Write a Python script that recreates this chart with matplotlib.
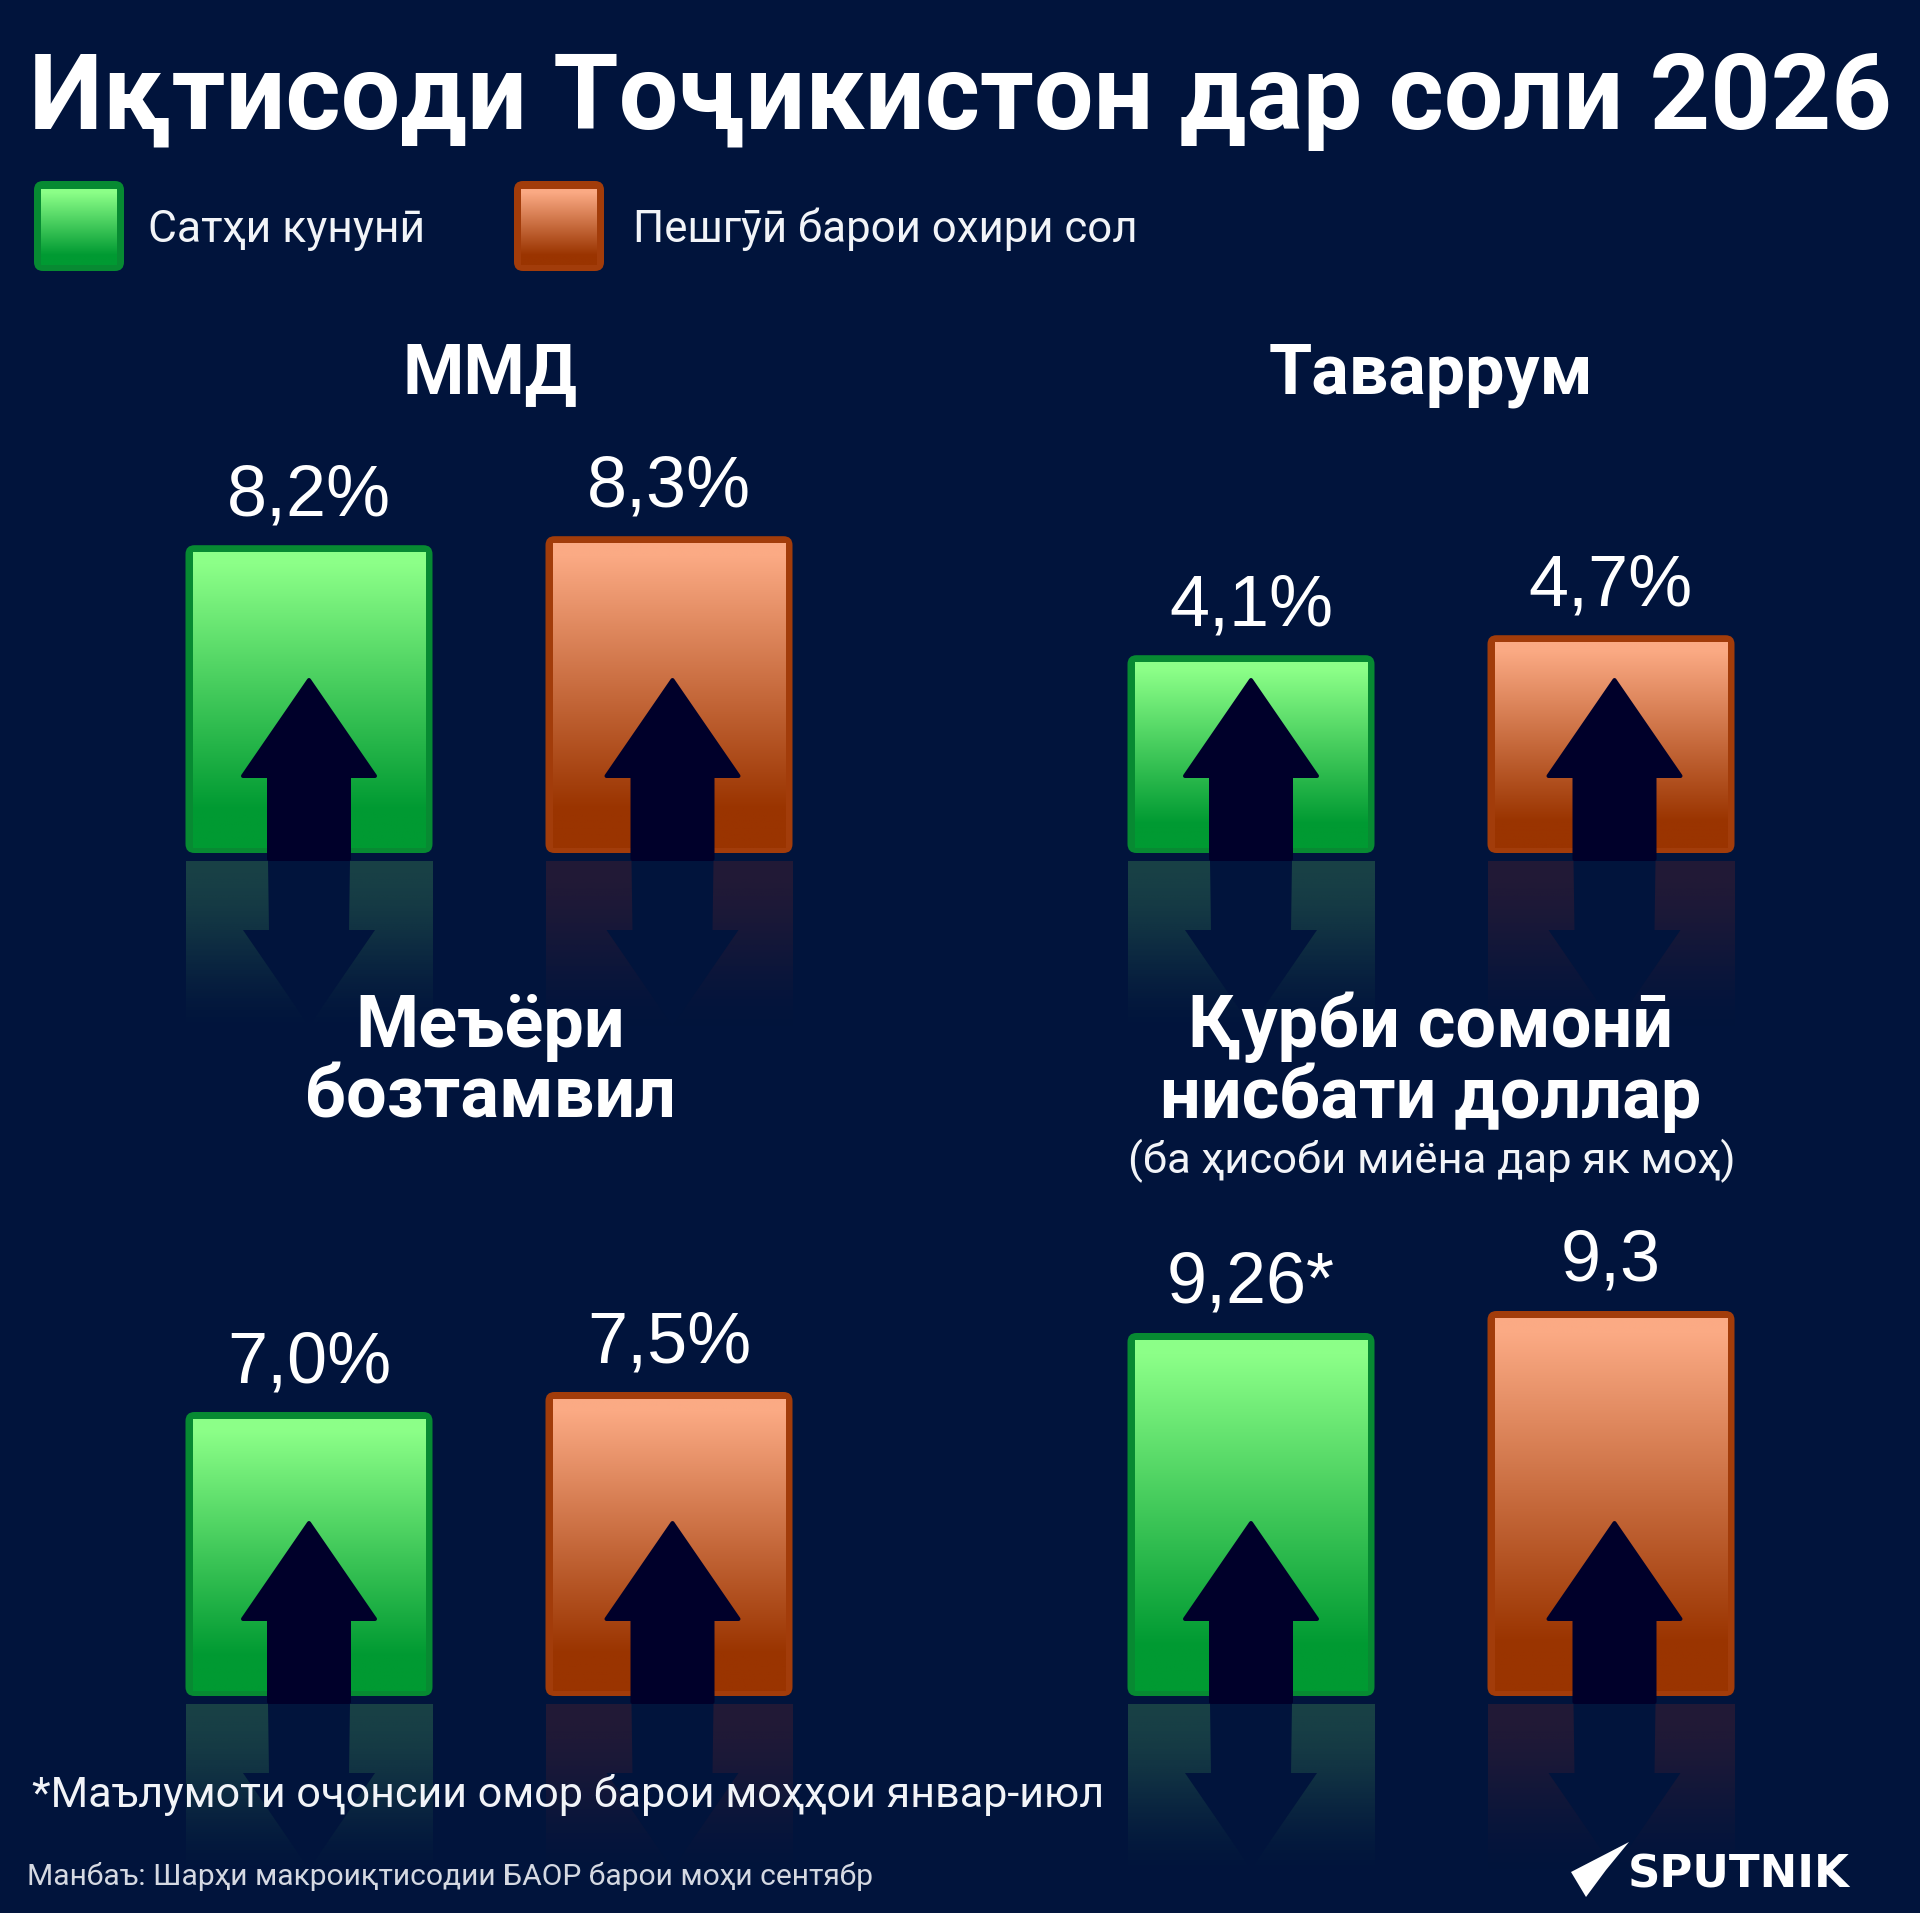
import numpy as np
import matplotlib
matplotlib.use('Agg')
import matplotlib.pyplot as plt
from matplotlib.colors import LinearSegmentedColormap, to_rgb
from matplotlib.patches import FancyBboxPatch, Polygon
from matplotlib.transforms import Affine2D, IdentityTransform

W, H = 1920, 1913
BG = '#01143C'
ARROW = '#00002A'
FONT = ['Roboto', 'DejaVu Sans']
VALUE_FONT = ['Liberation Sans', 'DejaVu Sans']

title = 'Иқтисоди Тоҷикистон дар соли 2026'
legend_labels = ['Сатҳи кунунӣ', 'Пешгӯӣ барои охири сол']
panel_titles = ['ММД', 'Таваррум', 'Меъёри\nбозтамвил', 'Қурби сомонӣ\nнисбати доллар']
panel_values = [[8.2, 8.3], [4.1, 4.7], [7.0, 7.5], [9.26, 9.3]]
value_labels = [['8,2%', '8,3%'], ['4,1%', '4,7%'], ['7,0%', '7,5%'], ['9,26*', '9,3']]
subtitle = '(ба ҳисоби миёна дар як моҳ)'
footnote = '*Маълумоти оҷонсии омор барои моҳҳои январ-июл'
source = 'Манбаъ: Шарҳи макроиқтисодии БАОР барои моҳи сентябр'

# per panel axis: value at the baseline and pixels per unit (the source bars are not zero based)
panel_base = [4.78, -1.84, -0.1, 8.6]
panel_scale = [90, 33.3, 40, 550]
panel_left = [129, 1071, 129, 1071]
panel_baseline = [853, 853, 1696, 1696]

green = LinearSegmentedColormap.from_list('g', [(0, '#8CFF88'), (0.04, '#8CFF88'), (0.87, '#009A32'), (1, '#009A32')])
orange = LinearSegmentedColormap.from_list('o', [(0, '#FBAA84'), (0.04, '#FBAA84'), (0.87, '#9A3400'), (1, '#9A3400')])
edges = ['#078A32', '#A23C0A']
mirror_colors = ['#60C864', '#A83020']
mirror_alpha = [0.25, 0.2]
cmaps = [green, orange]
ramp = np.linspace(0, 1, 256).reshape(-1, 1)


def px(pixels):
    return pixels * 0.72


def fade_image(color, alpha):
    t = np.linspace(0, 1, 256)
    rgba = np.zeros((256, 1, 4))
    rgba[:, :, :3] = to_rgb(color)
    rgba[:, 0, 3] = alpha * (1 - (3 * t ** 2 - 2 * t ** 3))
    return rgba


fig = plt.figure(figsize=(W / 100, H / 100), dpi=100, facecolor=BG)

# reflections sit on their own full size layer under the bars
under = fig.add_axes([0, 0, 1, 1], zorder=-1)
under.set_axis_off()

overlay = fig.add_axes([0, 0, 1, 1], zorder=10)
overlay.set_axis_off()

for k, values in enumerate(panel_values):
    base, scale = panel_base[k], panel_scale[k]
    height = 520
    ax = fig.add_axes([panel_left[k] / W, 1 - panel_baseline[k] / H, 720 / W, height / H])
    ax.set_axis_off()
    ax.patch.set_alpha(0)
    y_top = base + height / scale
    for i, v in enumerate(values):
        bar = ax.bar(i, v - base, bottom=base, width=247 / 360, facecolor='none', edgecolor='none')[0]
        ax.set_xlim(-0.5, 1.5)
        ax.set_ylim(base, y_top)

        x0, y0 = ax.transData.transform((i - 123.5 / 360, base))
        x1, y1 = ax.transData.transform((i + 123.5 / 360, v))
        ax.add_patch(FancyBboxPatch((x0, y0), x1 - x0, y1 - y0, boxstyle='round,pad=0,rounding_size=9',
                                    facecolor=edges[i], edgecolor='none', transform=IdentityTransform(),
                                    zorder=2, clip_on=False))
        ax.imshow(ramp, cmap=cmaps[i], aspect='auto', zorder=3,
                  extent=(i - 116.5 / 360, i + 116.5 / 360, base + 5 / scale, v - 7 / scale))
        ax.set_xlim(-0.5, 1.5)
        ax.set_ylim(base, y_top)

        ax.annotate(value_labels[k][i], (i, v), xytext=(0, px(30)), textcoords='offset points',
                    ha='center', va='baseline', color='white', fontsize=px(72),
                    family=VALUE_FONT, zorder=6)

        # arrow and its reflection work in pixels from the foot of the bar
        cx = (x0 + x1) / 2 + (3.5 if i == 1 else 0)
        shape = [(-40, -6), (-40, 77), (-66, 77), (0, 173), (66, 77), (40, 77), (40, -6)]
        ax.add_patch(Polygon(shape, closed=True, facecolor=ARROW, edgecolor=ARROW, linewidth=px(4),
                             joinstyle='round', transform=Affine2D().translate(cx, y0), zorder=5, clip_on=False))

        top = panel_baseline[k] + 8
        under.imshow(fade_image(mirror_colors[i], mirror_alpha[i]), aspect='auto',
                     extent=(x0, x1, top + 180, top))
        under.add_patch(Polygon([(cx + a, panel_baseline[k] + b) for a, b in shape[1:-1]] +
                                [(cx + 41, top), (cx - 41, top)],
                                closed=True, facecolor=BG, edgecolor='none'))

under.set_xlim(0, W)
under.set_ylim(H, 0)


def label(x, y, text, size, weight='regular', color='white', ha='left', family=FONT):
    overlay.text(x, y, text, fontsize=px(size), fontweight=weight, color=color, ha=ha, va='baseline',
                 family=family)


label(29, 129, title, 105.7, 'bold')

for i, (x, x_text) in enumerate([(34, 148), (514, 633)]):
    overlay.add_patch(FancyBboxPatch((x, 181), 90, 90, boxstyle='round,pad=0,rounding_size=9',
                                     facecolor=edges[i], edgecolor='none', zorder=1))
    overlay.imshow(ramp, cmap=cmaps[i], aspect='auto', extent=(x + 7, x + 83, 265, 189), zorder=2)
    label(x_text, 242, legend_labels[i], 44.5 if i == 0 else 43.8, color='#F2F4F8')

title_x = [490, 1431, 490, 1431]
title_y = [393, 394, 1047, 1047]
title_size = [70, 70, 72, 72]
for k, t in enumerate(panel_titles):
    for n, line in enumerate(t.split('\n')):
        label(title_x[k], title_y[k] + 71 * n, line, title_size[k], 'bold', ha='center')

label(1432, 1173, subtitle, 43.5, ha='center', color='#F2F4F8')
label(32, 1807, footnote, 43.1, color='#F2F4F8')
label(27, 1885, source, 30.07, color='#D5D9E2')

# logo: wing shape plus the wordmark
overlay.add_patch(Polygon([(1629, 1842), (1571, 1872), (1586, 1897), (1606, 1870)], closed=True,
                          facecolor='white', edgecolor='none'))
label(1628, 1888, 'SPUTNIK', 45, 'bold', family=['DejaVu Sans'])

overlay.set_xlim(0, W)
overlay.set_ylim(H, 0)

fig.savefig('out.png', dpi=100, facecolor=BG)
